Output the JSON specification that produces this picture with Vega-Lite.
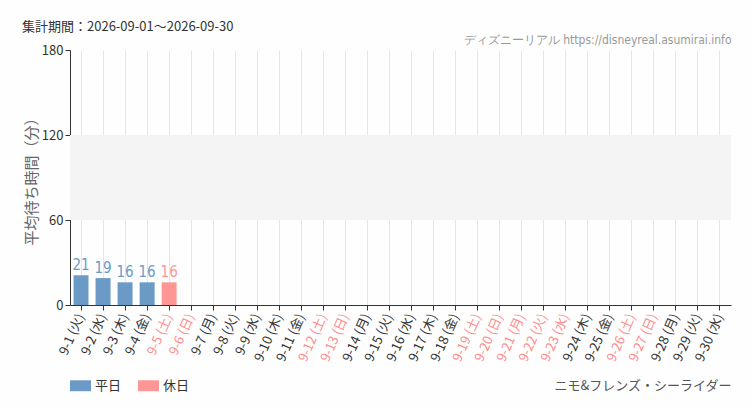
{
  "$schema": "https://vega.github.io/schema/vega-lite/v6.json",
  "width": 661,
  "height": 255,
  "autosize": {"type": "none"},
  "padding": {"left": 70, "top": 50, "right": 19, "bottom": 105},
  "background": "#fdfefd",
  "config": {
    "view": {"stroke": null},
    "font": "Noto Sans CJK JP",
    "axis": {"labelFont": "Noto Sans CJK JP", "titleFont": "Noto Sans CJK JP"}
  },
  "title": {
    "text": "集計期間：2026-09-01～2026-09-30",
    "anchor": "start",
    "frame": "group",
    "dx": -48,
    "offset": -1,
    "fontSize": 13,
    "fontWeight": "normal",
    "color": "#333333",
    "font": "Noto Sans CJK JP"
  },
  "data": {
    "values": [
      {"day": "9-1 (火)", "wait": 21, "type": "平日"},
      {"day": "9-2 (水)", "wait": 19, "type": "平日"},
      {"day": "9-3 (木)", "wait": 16, "type": "平日"},
      {"day": "9-4 (金)", "wait": 16, "type": "平日"},
      {"day": "9-5 (土)", "wait": 16, "type": "休日"},
      {"day": "9-6 (日)", "wait": null, "type": "休日"},
      {"day": "9-7 (月)", "wait": null, "type": "平日"},
      {"day": "9-8 (火)", "wait": null, "type": "平日"},
      {"day": "9-9 (水)", "wait": null, "type": "平日"},
      {"day": "9-10 (木)", "wait": null, "type": "平日"},
      {"day": "9-11 (金)", "wait": null, "type": "平日"},
      {"day": "9-12 (土)", "wait": null, "type": "休日"},
      {"day": "9-13 (日)", "wait": null, "type": "休日"},
      {"day": "9-14 (月)", "wait": null, "type": "平日"},
      {"day": "9-15 (火)", "wait": null, "type": "平日"},
      {"day": "9-16 (水)", "wait": null, "type": "平日"},
      {"day": "9-17 (木)", "wait": null, "type": "平日"},
      {"day": "9-18 (金)", "wait": null, "type": "平日"},
      {"day": "9-19 (土)", "wait": null, "type": "休日"},
      {"day": "9-20 (日)", "wait": null, "type": "休日"},
      {"day": "9-21 (月)", "wait": null, "type": "休日"},
      {"day": "9-22 (火)", "wait": null, "type": "休日"},
      {"day": "9-23 (水)", "wait": null, "type": "休日"},
      {"day": "9-24 (木)", "wait": null, "type": "平日"},
      {"day": "9-25 (金)", "wait": null, "type": "平日"},
      {"day": "9-26 (土)", "wait": null, "type": "休日"},
      {"day": "9-27 (日)", "wait": null, "type": "休日"},
      {"day": "9-28 (月)", "wait": null, "type": "平日"},
      {"day": "9-29 (火)", "wait": null, "type": "平日"},
      {"day": "9-30 (水)", "wait": null, "type": "平日"}
    ]
  },
  "resolve": {"scale": {"x": "shared"}, "axis": {"x": "independent"}},
  "layer": [
    {
      "mark": {"type": "rect", "color": "#f4f4f4"},
      "encoding": {
        "y": {"datum": 60, "type": "quantitative"},
        "y2": {"datum": 120}
      }
    },
    {
      "mark": {"type": "bar"},
      "encoding": {
        "x": {
          "field": "day",
          "type": "nominal",
          "sort": null,
          "scale": {
            "domain": ["9-1 (火)","9-2 (水)","9-3 (木)","9-4 (金)","9-5 (土)","9-6 (日)","9-7 (月)","9-8 (火)","9-9 (水)","9-10 (木)","9-11 (金)","9-12 (土)","9-13 (日)","9-14 (月)","9-15 (火)","9-16 (水)","9-17 (木)","9-18 (金)","9-19 (土)","9-20 (日)","9-21 (月)","9-22 (火)","9-23 (水)","9-24 (木)","9-25 (金)","9-26 (土)","9-27 (日)","9-28 (月)","9-29 (火)","9-30 (水)"],
            "paddingInner": 0.32,
            "paddingOuter": 0.16
          },
          "axis": {
            "orient": "bottom",
            "title": "ニモ&フレンズ・シーライダー",
            "titleAnchor": "end",
            "titleAlign": "right",
            "titleBaseline": "middle",
            "titleY": 80,
            "titleFontSize": 13,
            "titleFontWeight": "normal",
            "titleColor": "#555555",
            "labelAngle": -66,
            "labelFontSize": 13,
            "labelPadding": 4,
            "labelColor": {
              "condition": {
                "test": "test(/\\((土|日)\\)/, datum.value) || indexof(['9-21 (月)','9-22 (火)','9-23 (水)'], datum.value) >= 0",
                "value": "#ff8c8c"
              },
              "value": "#333333"
            },
            "domainColor": "#333333",
            "tickColor": "#333333",
            "tickSize": 5,
            "grid": true,
            "gridColor": "#e6e6e6"
          }
        },
        "y": {
          "field": "wait",
          "type": "quantitative",
          "scale": {"domain": [0, 180]},
          "axis": {
            "values": [0, 60, 120, 180],
            "title": "平均待ち時間（分）",
            "titleFontSize": 15,
            "titleFontWeight": "normal",
            "titleColor": "#666666",
            "titlePadding": 2,
            "labelFontSize": 13,
            "labelColor": "#333333",
            "domainColor": "#333333",
            "tickColor": "#333333",
            "tickSize": 5,
            "gridColor": "#e6e6e6"
          }
        },
        "color": {
          "field": "type",
          "type": "nominal",
          "scale": {"domain": ["平日", "休日"], "range": ["#6b9ac6", "#ff9696"]},
          "legend": {
            "title": null,
            "orient": "none",
            "legendX": 0,
            "legendY": 325,
            "direction": "horizontal",
            "symbolType": "M-1,-0.52H1V0.52H-1Z",
            "symbolSize": 441,
            "symbolStrokeWidth": 0,
            "symbolOpacity": 1,
            "labelFontSize": 13,
            "labelColor": "#333333",
            "columnPadding": 16
          }
        }
      }
    },
    {
      "transform": [{"filter": "datum.wait != null"}],
      "mark": {"type": "text", "baseline": "bottom", "dy": -2, "fontSize": 15, "font": "Liberation Sans Narrow, DejaVu Sans Condensed, sans-serif"},
      "encoding": {
        "x": {
          "field": "day",
          "type": "nominal",
          "sort": null,
          "axis": {
            "orient": "top",
            "title": "ディズニーリアル https://disneyreal.asumirai.info",
            "titleAnchor": "end",
            "titleAlign": "right",
            "titleBaseline": "middle",
            "titleY": -11,
            "titleFontSize": 12,
            "titleFontWeight": "normal",
            "titleColor": "#999999",
            "titleFont": "Liberation Sans Narrow, DejaVu Sans Condensed, sans-serif",
            "labels": false,
            "ticks": false,
            "domain": false,
            "grid": false
          }
        },
        "y": {"field": "wait", "type": "quantitative"},
        "text": {"field": "wait", "type": "quantitative"},
        "color": {"field": "type", "type": "nominal", "legend": null}
      }
    }
  ]
}
